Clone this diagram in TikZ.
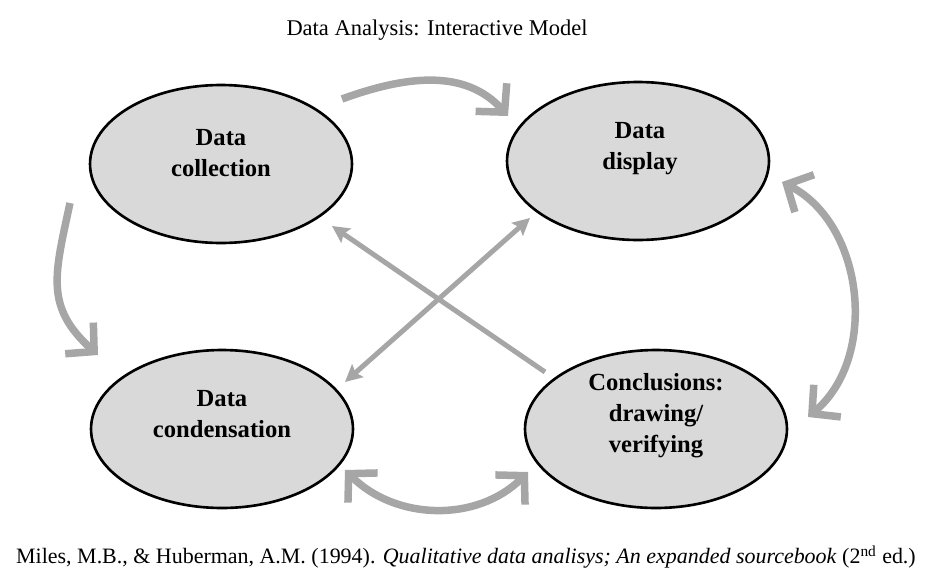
\documentclass[tikz,border=0pt]{standalone}
\usepackage{fontspec}
\setmainfont{Liberation Serif}
\usetikzlibrary{shapes.geometric,arrows.meta,calc}

\begin{document}
\begin{tikzpicture}[x=0.02cm, y=0.02cm,
    phase/.style={ellipse, draw=black, line width=1.5pt, fill=gray!30,
        minimum width=5.24cm, minimum height=3.16cm, inner sep=0pt},
    phasetext/.style={align=center, font=\fontsize{14}{17.6}\selectfont\bfseries},
    loop/.style={draw=gray!70, line width=0.15cm,
        arrows={-Straight Barb[length=0.4cm, width=0.84cm]}},
    cross/.style={draw=gray!70, line width=0.1cm,
        arrows={-Stealth[length=0.34cm, width=0.34cm, inset=0.06cm]}}]
    \useasboundingbox (0, 0) rectangle (925, 583);

    % the four phases
    \node[phase] (coll) at (221, 419) {};
    \node[phase] (disp) at (638, 422) {};
    \node[phase] (cond) at (222, 154) {};
    \node[phase] (concl) at (656, 154) {};
    \node[phasetext] (colltext) at ($(coll) + (0, 11)$) {Data\\collection};
    \node[phasetext] (disptext) at ($(disp) + (2, 12)$) {Data\\display};
    \node[phasetext] (condtext) at ($(cond) + (0, 15)$) {Data\\condensation};
    \node[phasetext] (concltext) at ($(concl) + (0, 13)$) {Conclusions:\\drawing/\\verifying};

    % curved arrows round the outside
    \draw[loop] ($(coll) + (121, 65)$) to[out=20, in=132] ($(disp) + (-130, 45)$);
    \draw[loop] ($(coll) + (-151, -39)$) to[out=258, in=138, looseness=1.2] ($(cond) + (-124, 74)$);
    \draw[loop, arrows={Straight Barb[length=0.4cm, width=0.84cm]-Straight Barb[length=0.4cm, width=0.84cm]}]
        ($(disp) + (144, -21)$) to[out=-27, in=40] ($(concl) + (152, 12)$);
    \draw[loop, arrows={Straight Barb[length=0.4cm, width=0.84cm]-Straight Barb[length=0.4cm, width=0.84cm]}]
        ($(cond) + (123, -41)$) to[out=-45, in=225] ($(concl) + (-128, -43)$);

    % straight arrows across the middle
    \draw[cross] ($(concl) + (-111, 57)$) -- ($(coll) + (111, -62)$);
    \draw[cross, arrows={Stealth[length=0.34cm, width=0.34cm, inset=0.06cm]-Stealth[length=0.34cm, width=0.34cm, inset=0.06cm]}]
        ($(cond) + (123, 47)$) -- ($(disp) + (-108, -57)$);

    \node (title) at (437, 553) {\fontsize{12.8}{15}\selectfont Data Analysis: Interactive Model};
    \node (cite) at (466, 26) {\fontsize{12.5}{15}\selectfont Miles, M.B., \& Huberman, A.M. (1994). \textit{Qualitative data analisys; An expanded sourcebook} (2\textsuperscript{nd} ed.)};
\end{tikzpicture}
\end{document}
